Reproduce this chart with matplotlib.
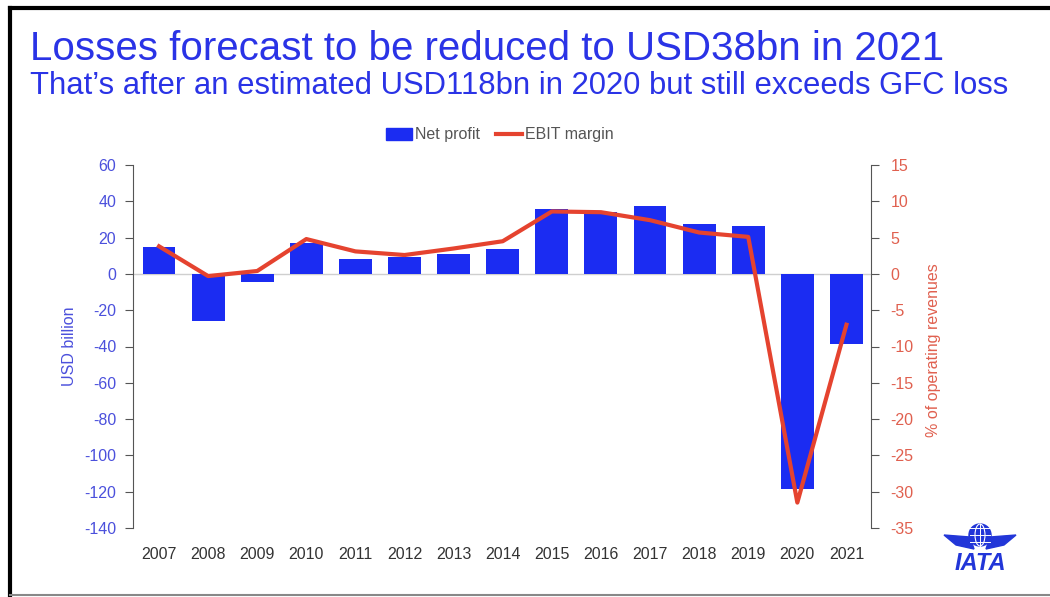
import numpy as np
import matplotlib.pyplot as plt
from matplotlib.patches import Rectangle, Circle, Polygon, Ellipse
from matplotlib.lines import Line2D

plt.rcParams['font.family'] = ['Liberation Sans', 'DejaVu Sans']
plt.rcParams['axes.unicode_minus'] = False

# Datos
years = ['2007', '2008', '2009', '2010', '2011', '2012', '2013', '2014',
         '2015', '2016', '2017', '2018', '2019', '2020', '2021']
net_profit = [14.7, -26.1, -4.6, 17.3, 8.3, 9.2, 10.7, 13.7,
              36.0, 34.2, 37.6, 27.3, 26.4, -118.5, -38.7]
ebit_margin = [3.8, -0.3, 0.4, 4.8, 3.1, 2.6, 3.5, 4.5,
               8.6, 8.5, 7.4, 5.7, 5.1, -31.5, -7.0]

blue = '#1b2cf2'
blue_txt = '#4b50dc'
red = '#e5432f'
red_txt = '#e0604f'

fig = plt.figure(figsize=(10.5, 5.97), dpi=100)
ax = fig.add_axes([133/1050, 1 - 528/597, (871-133)/1050, (528-165)/597])
ax2 = ax.twinx()

x = np.arange(len(years))
ax.bar(x, net_profit, width=0.67, color=blue, zorder=2)
ax.axhline(0, color='#cfcfcf', linewidth=1, zorder=1)
ax.set_ylim(-140, 60)
ax.set_yticks(np.arange(-140, 61, 20))
ax.set_xlim(-0.53, 14.5)
ax.set_xticks(x)
ax.set_xticklabels(years)
ax.tick_params(axis='x', length=0, pad=14, labelsize=11.5, labelcolor='#333333')
ax.tick_params(axis='y', colors='#555555', labelcolor=blue_txt, labelsize=11.5,
               length=6, direction='out', pad=6)
ax.set_ylabel('USD billion', color=blue_txt, fontsize=11.5)
ax.yaxis.set_label_coords(-0.076, 0.5)
for s in ['top', 'right', 'bottom']:
    ax.spines[s].set_visible(False)
ax.spines['left'].set_color('#555555')

ax2.plot(x, ebit_margin, color=red, linewidth=3, zorder=3)
ax2.set_ylim(-35, 15)
ax2.set_yticks(np.arange(-35, 16, 5))
ax2.tick_params(axis='y', colors='#555555', labelcolor=red_txt, labelsize=11.5,
                length=6, direction='out', pad=8)
ax2.set_ylabel('% of operating revenues', color=red_txt, fontsize=11.5)
ax2.yaxis.set_label_coords(1.074, 0.49)
for s in ['top', 'left', 'bottom']:
    ax2.spines[s].set_visible(False)
ax2.spines['right'].set_color('#555555')

# Leyenda
handles = [Rectangle((0, 0), 1, 1, color=blue),
           Line2D([0], [0], color=red, linewidth=3)]
fig.legend(handles, ['Net profit', 'EBIT margin'], loc='center',
           bbox_to_anchor=(500/1050, 1 - 135/597), ncol=2, frameon=False,
           fontsize=11.5, labelcolor='#555555', handlelength=1.6,
           handletextpad=0.2, columnspacing=1.0)

# Títulos
fig.text(30/1050, 1 - 49/597, 'Losses forecast to be reduced to USD38bn in 2021',
         color='#2a33e6', fontsize=29, va='center', ha='left')
fig.text(30/1050, 1 - 86/597,
         'That\u2019s after an estimated USD118bn in 2020 but still exceeds GFC loss',
         color='#2a33e6', fontsize=22.3, va='center', ha='left')

# Marco
fig.add_artist(Line2D([10/1050, 1], [1 - 8/597, 1 - 8/597], color='black',
                      linewidth=3, transform=fig.transFigure))
fig.add_artist(Line2D([10/1050, 10/1050], [0, 1 - 8/597], color='black',
                      linewidth=3, transform=fig.transFigure))
fig.add_artist(Line2D([10/1050, 1], [2/597, 2/597], color='#888888',
                      linewidth=1.5, transform=fig.transFigure))

# Logo IATA (aproximado)
lg = fig.add_axes([940/1050, 1 - 575/597, 80/1050, 60/597])
lg.set_xlim(0, 80)
lg.set_ylim(0, 60)
lg.axis('off')
lg.add_patch(Circle((40, 40), 11, color='#2236d8'))
lg.add_patch(Ellipse((40, 40), 10, 22, fill=False, edgecolor='white', linewidth=0.8))
for yy in [33, 40, 47]:
    lg.plot([30, 50], [yy, yy], color='white', linewidth=0.7)
lg.plot([40, 40], [29, 51], color='white', linewidth=0.7)
lg.add_patch(Polygon([[4, 40], [30, 38], [34, 26], [16, 30]], color='#2236d8'))
lg.add_patch(Polygon([[76, 40], [50, 38], [46, 26], [64, 30]], color='#2236d8'))
lg.text(40, 12, 'IATA', color='#2236d8', fontsize=17, fontweight='bold',
        fontstyle='italic', ha='center', va='center')

fig.savefig('out.png', dpi=100)
